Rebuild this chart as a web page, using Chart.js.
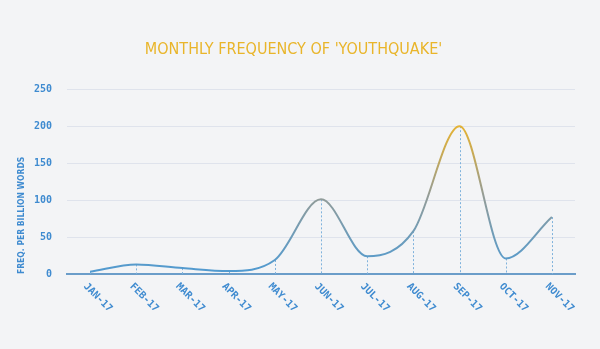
<!DOCTYPE html>
<html>
<head>
<meta charset="utf-8">
<script src="https://cdn.jsdelivr.net/npm/chart.js@4"></script>
<style>
  html, body { margin: 0; padding: 0; background: #f3f4f6; }
  #wrap { width: 600px; height: 349px; position: relative; }
</style>
</head>
<body>
<div id="wrap"><canvas id="freqChart"></canvas></div>
<script>
const months = ['JAN-17', 'FEB-17', 'MAR-17', 'APR-17', 'MAY-17', 'JUN-17', 'JUL-17', 'AUG-17', 'SEP-17', 'OCT-17', 'NOV-17'];
const frequency = [3, 13, 8, 4, 19, 101, 24, 58, 200, 21, 77];
const yTicks = [0, 50, 100, 150, 200, 250];

const blue = '#3f8bd0';

// dotted drop lines from each point down to the axis
const dropLines = {
    id: 'dropLines',
    beforeDatasetsDraw(chart) {
        const { ctx, scales: { x, y } } = chart;
        ctx.save();
        ctx.strokeStyle = '#7fb2dc';
        ctx.lineWidth = 1;
        ctx.setLineDash([2, 2]);
        frequency.forEach((v, i) => {
            const px = Math.round(x.getPixelForValue(i)) + 0.5;
            ctx.beginPath();
            ctx.moveTo(px, y.getPixelForValue(v));
            ctx.lineTo(px, y.getPixelForValue(0));
            ctx.stroke();
        });
        ctx.restore();
    }
};

// month labels slanting down to the right
const slantLabels = {
    id: 'slantLabels',
    afterDraw(chart) {
        const { ctx, scales: { x, y } } = chart;
        ctx.save();
        ctx.fillStyle = blue;
        ctx.font = 'bold 10px "DejaVu Sans Mono"';
        ctx.textBaseline = 'middle';
        months.forEach((m, i) => {
            ctx.save();
            ctx.translate(x.getPixelForValue(i) - 5, y.getPixelForValue(0) + 11);
            ctx.rotate(Math.PI / 4);
            ctx.fillText(m, 0, 0);
            ctx.restore();
        });
        ctx.restore();
    }
};

function lineGradient(context) {
    const { chart } = context;
    const { ctx, chartArea, scales } = chart;
    if (!chartArea) return '#5b9fcf';
    const g = ctx.createLinearGradient(0, scales.y.getPixelForValue(0), 0, scales.y.getPixelForValue(210));
    g.addColorStop(0, '#4f9ad2');
    g.addColorStop(0.25, '#6f9cb8');
    g.addColorStop(0.5, '#939c98');
    g.addColorStop(0.75, '#c3a85a');
    g.addColorStop(1, '#ecb52c');
    return g;
}

new Chart(document.getElementById('freqChart'), {
    type: 'line',
    data: {
        labels: months,
        datasets: [{
            data: frequency,
            borderColor: lineGradient,
            borderWidth: 2,
            pointRadius: 0,
            cubicInterpolationMode: 'monotone',
            fill: false
        }]
    },
    plugins: [dropLines, slantLabels],
    options: {
        responsive: true,
        maintainAspectRatio: false,
        animation: false,
        layout: { padding: { left: 12, right: 25, bottom: 67, top: 0 } },
        plugins: {
            legend: { display: false },
            tooltip: { enabled: false },
            title: {
                display: true,
                text: "MONTHLY FREQUENCY OF 'YOUTHQUAKE'",
                color: '#e9b52a',
                font: { family: '"DejaVu Sans Condensed"', size: 16, weight: 'normal' },
                padding: { top: 40, bottom: 30 }
            }
        },
        scales: {
            x: {
                offset: true,
                grid: { display: false },
                border: { color: '#6b9dc9', width: 2 },
                ticks: { display: false }
            },
            y: {
                min: 0,
                max: 250,
                afterBuildTicks(axis) { axis.ticks = yTicks.map(v => ({ value: v })); },
                afterFit(axis) { axis.width = 55; },
                grid: { color: '#dfe3ec', drawTicks: false },
                border: { display: false },
                ticks: {
                    color: blue,
                    padding: 15,
                    font: { family: '"DejaVu Sans Mono"', size: 10, weight: 'bold' }
                },
                title: {
                    display: true,
                    text: 'FREQ. PER BILLION WORDS',
                    align: 'start',
                    color: blue,
                    padding: { top: 5, bottom: 0 },
                    font: { family: '"Liberation Sans Narrow", "DejaVu Sans Condensed"', size: 8.5, weight: 'bold' }
                }
            }
        }
    }
});
</script>
</body>
</html>
